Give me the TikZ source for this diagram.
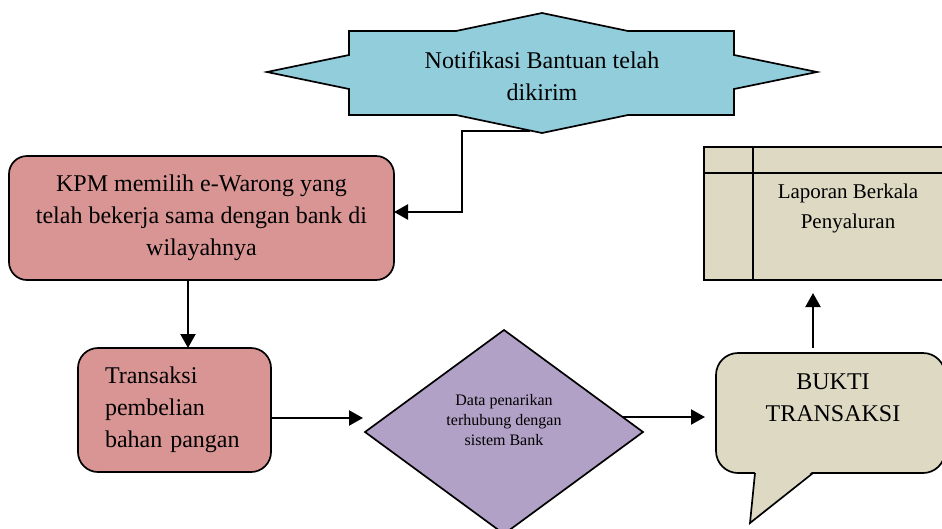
\documentclass[tikz,border=0pt]{standalone}
\usepackage{fontspec}
\setmainfont{Liberation Serif}
\usetikzlibrary{arrows.meta,shapes.geometric,calc}

\definecolor{biru}{HTML}{92CDDC}
\definecolor{merah}{HTML}{D99594}
\definecolor{ungu}{HTML}{B2A1C7}
\definecolor{krem}{HTML}{DDD9C3}

\tikzset{
  garis/.style={draw, line width=1.7pt, outer sep=0pt},
  proses/.style={garis, fill=merah, rounded corners=18pt, font=\fontsize{24}{32}\selectfont},
  teks/.style={align=center, font=\fontsize{24}{32}\selectfont},
  panah/.style={-{Triangle[length=14pt,width=15pt]}, line width=2.2pt},
}

\begin{document}
\begin{tikzpicture}[x=1pt, y=-1pt]
\useasboundingbox (0,0) rectangle (942,528);
\clip (0,0) rectangle (942,528);

% notifikasi (bintang)
\draw[line width=1.7pt, fill=biru] (267,72) -- (349,55) -- (349,31) -- (456,31) -- (542,13) -- (628,31)
  -- (734,31) -- (734,55) -- (817,72) -- (734,89) -- (734,115) -- (628,115) -- (542,133)
  -- (456,115) -- (349,115) -- (349,89) -- cycle;
\node[teks] (notif) at (542,76) {Notifikasi Bantuan telah\\dikirim};
\coordinate (notifout) at (530,131);

% proses
\node[proses, align=center, minimum width=385pt, minimum height=124pt] (kpm) at (201.5,218)
  {KPM memilih e-Warong yang\\telah bekerja sama dengan bank di\\wilayahnya};
\node[proses, rounded corners=20pt, align=left, text width=139pt, inner xsep=27pt,
  minimum height=124pt] (trans) at (174.5,410) {Transaksi\\pembelian\\bahan pangan};

% keputusan
\node[garis, diamond, fill=ungu, minimum width=278pt, minimum height=204pt, inner sep=0pt] (bank) at (504,432) {};
\node[align=center, font=\fontsize{16}{20}\selectfont] (banktxt) at (504,420) {Data penarikan\\terhubung dengan\\sistem Bank};
\coordinate (bankout) at ($(bank.east)!0.147!(bank.north)$);

% bukti
\node[garis, fill=krem, rounded corners=22pt, minimum width=229pt, minimum height=120pt] (bukti) at (830.5,413) {};
\fill[krem] (755,471) -- (750,523) -- (813,471) -- cycle;
\draw[line width=1.7pt] (755,473) -- (750,523) -- (813,473);
\node[teks] (buktitxt) at (833,398) {BUKTI\\TRANSAKSI};
\coordinate (buktiatas) at ([xshift=-17.5pt]bukti.north);

% laporan
\node[garis, fill=krem, minimum width=261pt, minimum height=133pt] (laporan) at (834.5,213.5) {};
\draw[line width=1.7pt] ([xshift=49pt]laporan.north west) -- ([xshift=49pt]laporan.south west);
\draw[line width=1.7pt] ([yshift=-26pt]laporan.north west) -- ([yshift=-26pt]laporan.north east);
\node[align=center, font=\fontsize{21}{30}\selectfont] (laporantxt) at (848,208) {Laporan Berkala\\Penyaluran};

% arus
\draw[panah] (notifout) -- ++(-68,0) |- ([yshift=6pt]kpm.east);
\draw[panah] ([xshift=-13.5pt]kpm.south) -- ([xshift=13.5pt]trans.north);
\draw[panah] ([yshift=-8pt]trans.east) -- ([xshift=-2pt,yshift=14pt]bank.west);
\draw[panah, shorten >=11pt] (bankout) -- (bankout -| bukti.west);
\draw[panah, shorten <=5pt, shorten >=13pt] (buktiatas) -- (buktiatas |- laporan.south);
\end{tikzpicture}
\end{document}
